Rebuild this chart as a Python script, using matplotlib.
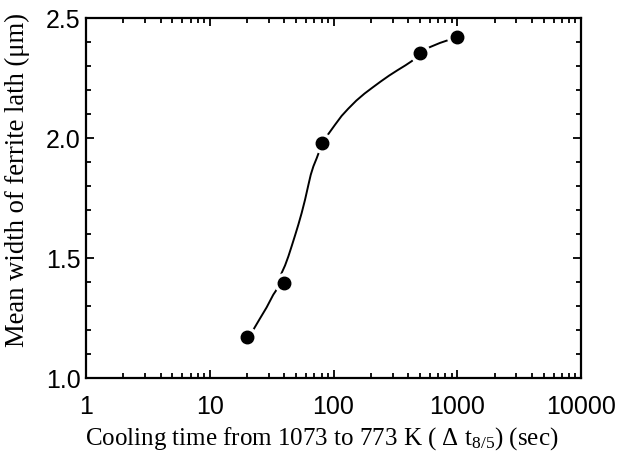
import matplotlib.pyplot as plt
from matplotlib.ticker import LogLocator, MultipleLocator, FixedFormatter, FixedLocator

plt.rcParams["mathtext.fontset"] = "custom"
plt.rcParams["mathtext.rm"] = "Liberation Serif"
plt.rcParams["mathtext.it"] = "Liberation Serif"

# measured points
cool_time = [20, 40, 80, 500, 1000]
lath_width = [1.17, 1.395, 1.98, 2.355, 2.42]

# hand-drawn fitting curve
curve_x = [20, 22.5, 25.4, 28.8, 32.6, 34.7, 38.1, 40.6, 43.2, 45.9, 48.9, 52.0,
           55.3, 58.9, 62.7, 65.5, 68.8, 73.3, 76.4, 80.3, 91.0, 103, 116.3, 131.5,
           153, 178, 207.6, 241.6, 281.5, 328, 382, 431, 508, 603, 724, 869, 982]
curve_y = [1.17, 1.201, 1.247, 1.294, 1.347, 1.368, 1.4375, 1.469, 1.507, 1.549, 1.594, 1.639,
           1.6875, 1.743, 1.805, 1.847, 1.882, 1.917, 1.942, 1.979, 2.017, 2.0555, 2.092, 2.122,
           2.156, 2.185, 2.211, 2.236, 2.26, 2.282, 2.303, 2.321, 2.358, 2.379, 2.396, 2.41, 2.419]

x_ticks = [1, 10, 100, 1000, 10000]
x_ticklabels = ["1", "10", "100", "1000", "10000"]
y_ticks = [1.0, 1.5, 2.0, 2.5]
y_ticklabels = ["1.0", "1.5", "2.0", "2.5"]

fig = plt.figure(figsize=(6.21, 4.59), dpi=100)
ax = fig.add_axes([86 / 621, 1 - 378 / 459, 495 / 621, 360 / 459])

ax.plot(curve_x, curve_y, color="black", lw=1.4, zorder=1, solid_joinstyle="round")
# white halo around the dots so the line breaks near them
ax.plot(cool_time, lath_width, "o", color="white", ms=14, zorder=2)
ax.plot(cool_time, lath_width, "o", color="black", ms=9, zorder=3)

ax.set_xscale("log")
ax.set_xlim(1, 10000)
ax.set_ylim(1.0, 2.5)

ax.xaxis.set_major_locator(FixedLocator(x_ticks))
ax.xaxis.set_major_formatter(FixedFormatter(x_ticklabels))
ax.xaxis.set_minor_locator(LogLocator(base=10, subs=range(2, 10)))
ax.yaxis.set_major_locator(FixedLocator(y_ticks))
ax.yaxis.set_major_formatter(FixedFormatter(y_ticklabels))
ax.yaxis.set_minor_locator(MultipleLocator(0.1))

ax.tick_params(which="both", direction="in", top=True, right=True, width=1.3)
ax.tick_params(which="major", length=6)
ax.tick_params(which="minor", length=3.5)
ax.tick_params(axis="both", labelsize=18)
ax.tick_params(axis="x", pad=12)
ax.tick_params(axis="y", pad=4)
for lab in ax.get_xticklabels() + ax.get_yticklabels():
    lab.set_family("Liberation Sans")
for s in ax.spines.values():
    s.set_linewidth(1.6)

ax.set_xlabel(r"Cooling time from 1073 to 773 K ( $\Delta$ t$_{8/5}$) (sec)",
              family="Liberation Serif", fontsize=18)
ax.set_ylabel("Mean width of ferrite lath (\u03bcm)",
              family="Liberation Serif", fontsize=19.2)
ax.xaxis.set_label_coords(0.477, -0.13)
ax.yaxis.set_label_coords(-0.113, 0.55)

fig.savefig("out.png", dpi=100)
